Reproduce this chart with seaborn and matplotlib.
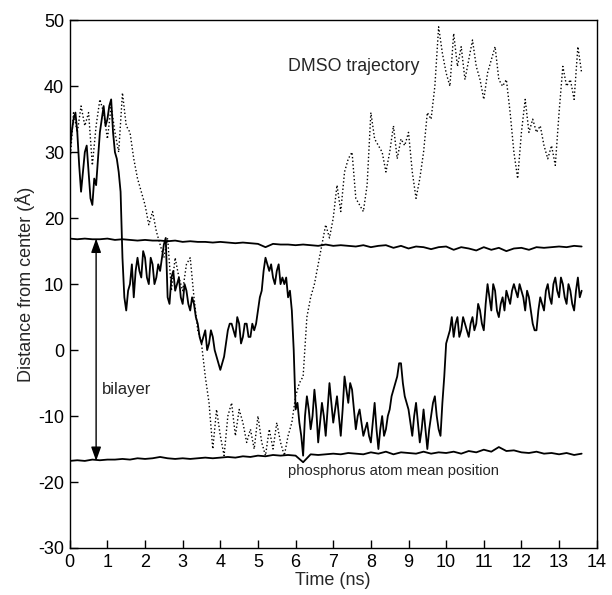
import numpy as np
import pandas as pd
import matplotlib
matplotlib.use("Agg")
import matplotlib.pyplot as plt
import seaborn as sns

# solid trajectory (distance from bilayer center, Å), 0.05 ns sampling, one row per ns
solid_time = np.round(np.arange(273) * 0.05, 2)
solid_traj = [
    30, 33, 35, 36, 33, 28, 24, 27, 30, 31, 27, 23, 22, 26, 25, 29, 33, 35, 37, 34,
    35, 37, 38, 33, 30, 29, 27, 24, 14, 8, 6, 9, 10, 13, 8, 12, 14, 12, 11, 15,
    14, 11, 10, 14, 13, 10, 11, 13, 12, 14, 16, 17, 8, 7, 11, 12, 9, 10, 11, 8,
    7, 10, 9, 7, 6, 8, 7, 5, 4, 2, 1, 2, 3, 0, 1, 3, 2, 0, -1, -2,
    -3, -2, -1, 1, 3, 4, 4, 3, 2, 5, 4, 1, 2, 4, 4, 2, 2, 4, 3, 4,
    6, 8, 9, 12, 14, 13, 12, 13, 11, 10, 12, 13, 10, 11, 10, 11, 8, 9, 6, 0,
    -9, -8, -11, -13, -16, -10, -7, -9, -12, -10, -6, -9, -14, -11, -8, -10, -13, -9, -5, -8,
    -11, -9, -7, -10, -13, -9, -4, -6, -8, -5, -6, -9, -12, -10, -9, -11, -13, -12, -11, -13,
    -14, -11, -8, -12, -15, -12, -10, -13, -12, -10, -9, -7, -6, -5, -4, -2, -2, -5, -7, -8,
    -9, -11, -13, -10, -8, -11, -14, -12, -9, -12, -15, -12, -10, -8, -7, -10, -12, -13, -8, -4,
    1, 2, 3, 5, 2, 4, 5, 2, 3, 5, 4, 3, 2, 4, 5, 3, 4, 7, 6, 4,
    3, 7, 10, 8, 6, 10, 9, 6, 5, 7, 8, 6, 9, 8, 7, 9, 10, 9, 8, 10,
    9, 8, 6, 9, 8, 6, 4, 3, 3, 6, 8, 7, 6, 9, 10, 8, 7, 10, 11, 9,
    8, 11, 10, 8, 7, 10, 9, 7, 6, 9, 11, 8, 9,
]

# dotted trajectory (DMSO), 0.1 ns sampling
dotted_time = np.round(np.arange(137) * 0.1, 2)
dotted_traj = [
    28, 36, 33, 37, 34, 36, 28, 34, 38, 36,
    32, 37, 33, 30, 39, 34, 33, 29, 26, 24,
    22, 19, 21, 18, 16, 14, 17, 9, 14, 11,
    9, 13, 14, 8, 3, 1, -4, -8, -15, -9,
    -13, -16, -10, -8, -13, -9, -11, -14, -12, -15,
    -10, -14, -16, -12, -15, -11, -14, -16, -13, -11,
    -7, -5, -4, 5, 8, 10, 13, 16, 19, 17,
    20, 25, 21, 27, 29, 30, 23, 22, 21, 25,
    36, 32, 31, 30, 27, 30, 34, 29, 32, 31,
    33, 27, 23, 26, 30, 36, 35, 40, 49, 45,
    42, 40, 48, 43, 46, 41, 44, 47, 43, 41,
    38, 42, 44, 46, 41, 40, 41, 36, 30, 26,
    33, 38, 33, 35, 33, 34, 31, 29, 31, 28,
    36, 43, 40, 41, 38, 46, 42,
]

# phosphorus atom mean positions, 0.2 ns sampling
p_time = np.round(np.arange(69) * 0.2, 2)
p_upper = [
    16.9, 16.8, 16.9, 16.8, 16.8, 16.9, 16.7, 16.8, 16.7, 16.6,
    16.7, 16.6, 16.6, 16.5, 16.6, 16.4, 16.5, 16.4, 16.4, 16.3,
    16.4, 16.3, 16.2, 16.3, 16.2, 16.1, 15.6, 16.1, 16.0, 16.0,
    15.9, 16.0, 15.9, 15.8, 16.0, 15.8, 15.9, 15.8, 15.7, 15.9,
    15.6, 15.8, 15.9, 15.5, 15.8, 15.4, 15.7, 15.6, 15.3, 15.6,
    15.7, 15.2, 15.6, 15.4, 15.1, 15.6, 15.2, 15.5, 15.0, 15.4,
    15.5, 15.2, 15.6, 15.5, 15.6, 15.7, 15.6, 15.8, 15.7,
]
p_lower = [
    -16.8, -16.7, -16.8, -16.6, -16.7, -16.6, -16.6, -16.5, -16.6, -16.4,
    -16.5, -16.4, -16.2, -16.4, -16.5, -16.4, -16.5, -16.4, -16.3, -16.4,
    -16.3, -16.2, -16.3, -16.1, -16.2, -16.0, -16.1, -15.9, -16.0, -15.9,
    -16.0, -17.0, -15.8, -15.9, -15.8, -15.7, -15.8, -15.6, -15.7, -15.8,
    -15.5, -15.7, -15.4, -15.8, -15.5, -15.6, -15.7, -15.4, -15.7, -15.5,
    -15.6, -15.4, -15.7, -15.3, -15.5, -15.1, -15.4, -14.7, -15.3, -15.2,
    -15.5, -15.6, -15.4, -15.7, -15.6, -15.8, -15.6, -15.9, -15.7,
]

sns.set_theme(style="white")
plt.rcParams['font.family'] = ['Liberation Sans', 'DejaVu Sans']
plt.rcParams['axes.unicode_minus'] = False

fig = plt.figure(figsize=(6.12, 5.95), dpi=100)
ax = fig.add_axes([0.114, 0.079, 0.861, 0.887])

solid = pd.DataFrame({'t': solid_time, 'z': solid_traj})
dotted = pd.DataFrame({'t': dotted_time, 'z': dotted_traj})
phos = pd.DataFrame({'t': p_time, 'upper': p_upper, 'lower': p_lower})

sns.lineplot(data=dotted, x='t', y='z', ax=ax, color='black', lw=1.0,
             linestyle=':')
sns.lineplot(data=solid, x='t', y='z', ax=ax, color='black', lw=1.3)
sns.lineplot(data=phos, x='t', y='upper', ax=ax, color='black', lw=1.3)
sns.lineplot(data=phos, x='t', y='lower', ax=ax, color='black', lw=1.3)

# bilayer thickness arrow
ax.annotate('', xy=(0.7, 16.9), xytext=(0.7, -16.8),
            arrowprops=dict(arrowstyle='<|-|>,head_width=0.25,head_length=0.7',
                            color='black', lw=1.0, shrinkA=0, shrinkB=0))
ax.text(0.85, -6, 'bilayer', fontsize=12, va='center', ha='left')
ax.text(5.8, 43, 'DMSO trajectory', fontsize=12.8, va='center', ha='left')
ax.text(5.8, -18.3, 'phosphorus atom mean position', fontsize=10.6,
        va='center', ha='left')

ax.set_xlim(0, 14)
ax.set_ylim(-30, 50)
ax.set_xticks(range(0, 15))
ax.set_yticks(range(-30, 51, 10))
ax.set_xlabel('Time (ns)', fontsize=13, labelpad=1)
ax.set_ylabel('Distance from center (Å)', fontsize=13, labelpad=2)
ax.tick_params(direction='in', length=6, width=1, colors='black',
               labelsize=13, bottom=True, left=True, top=False, right=False,
               pad=4)
for s in ax.spines.values():
    s.set_color('black')
    s.set_linewidth(1.0)
ax.grid(False)

fig.savefig('out.png', dpi=100)
